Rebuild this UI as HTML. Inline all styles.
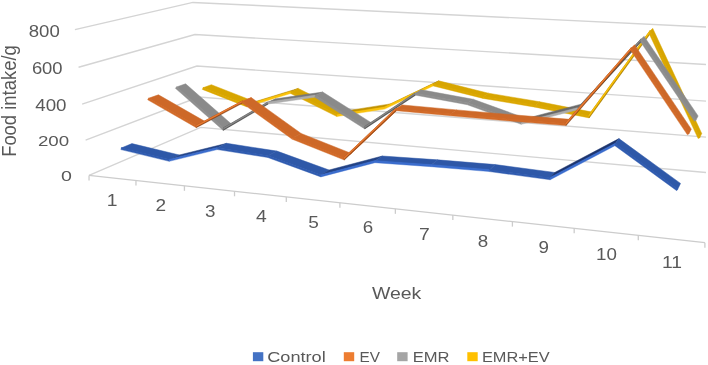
<!DOCTYPE html>
<html><head><meta charset="utf-8"><style>
html,body{margin:0;padding:0;background:#fff;}
svg{display:block;font-family:"Liberation Sans",sans-serif;filter:blur(0.45px);}
</style></head><body>
<svg width="708" height="365" viewBox="0 0 708 365">
<defs><clipPath id="clipR"><rect x="0" y="0" width="706" height="365"/></clipPath></defs>
<rect width="708" height="365" fill="#fff"/>
<g fill="none" stroke="#D4D4D4" stroke-width="1.4" clip-path="url(#clipR)"><polyline points="89.04,175.39 200.70,127.36 727.74,174.38" /><polyline points="85.61,140.11 198.80,96.98 731.13,139.12" /><polyline points="82.12,104.07 196.88,66.04 734.60,103.11" /><polyline points="78.55,67.25 194.91,34.53 738.14,66.31" /><polyline points="74.90,29.61 192.92,2.44 741.76,28.69" /></g>
<g stroke="#CCCCCC" stroke-width="1.3"><line x1="89.04" y1="175.39" x2="704.89" y2="242.65"/><line x1="89.04" y1="175.39" x2="89.04" y2="180.39"/><line x1="135.96" y1="180.51" x2="135.96" y2="185.51"/><line x1="184.43" y1="185.81" x2="184.43" y2="190.81"/><line x1="234.52" y1="191.28" x2="234.52" y2="196.28"/><line x1="286.31" y1="196.93" x2="286.31" y2="201.93"/><line x1="339.90" y1="202.79" x2="339.90" y2="207.79"/><line x1="395.38" y1="208.84" x2="395.38" y2="213.84"/><line x1="452.84" y1="215.12" x2="452.84" y2="220.12"/><line x1="512.40" y1="221.62" x2="512.40" y2="226.62"/><line x1="574.18" y1="228.37" x2="574.18" y2="233.37"/><line x1="638.29" y1="235.37" x2="638.29" y2="240.37"/><line x1="704.89" y1="242.65" x2="704.89" y2="247.65"/></g>
<g><polygon points="202.94,87.80 246.95,105.09 254.85,101.73 211.35,84.70" fill="#d7a500" stroke="#d7a500" stroke-width="0.5" stroke-linejoin="round"/><polygon points="203.10,87.40 246.97,104.64 246.88,106.89 202.32,89.38" fill="#dca803" stroke="#dca803" stroke-width="0.4" stroke-linejoin="round"/><polygon points="246.95,105.09 290.78,91.69 298.23,88.45 254.85,101.73" fill="#b48700" stroke="#b48700" stroke-width="0.5" stroke-linejoin="round"/><polygon points="246.97,104.64 290.82,91.24 290.63,93.52 246.88,106.89" fill="#fac20a" stroke="#fac20a" stroke-width="0.4" stroke-linejoin="round"/><polygon points="290.78,91.69 337.16,114.82 344.03,111.23 298.23,88.45" fill="#d7a500" stroke="#d7a500" stroke-width="0.5" stroke-linejoin="round"/><polygon points="290.82,91.24 337.22,114.38 336.88,116.59 290.63,93.52" fill="#dca803" stroke="#dca803" stroke-width="0.4" stroke-linejoin="round"/><polygon points="337.16,114.82 384.14,107.45 390.48,103.89 344.03,111.23" fill="#c09100" stroke="#c09100" stroke-width="0.5" stroke-linejoin="round"/><polygon points="337.22,114.38 384.01,107.04 384.65,109.09 336.88,116.59" fill="#fac20a" stroke="#fac20a" stroke-width="0.4" stroke-linejoin="round"/><polygon points="384.14,107.45 432.98,84.14 438.76,80.84 390.48,103.89" fill="#a57a00" stroke="#a57a00" stroke-width="0.5" stroke-linejoin="round"/><polygon points="384.01,107.04 432.94,83.69 433.16,85.94 384.65,109.09" fill="#fac20a" stroke="#fac20a" stroke-width="0.4" stroke-linejoin="round"/><polygon points="432.98,84.14 483.36,96.75 488.48,93.22 438.76,80.84" fill="#d7a500" stroke="#d7a500" stroke-width="0.5" stroke-linejoin="round"/><polygon points="432.94,83.69 483.44,96.33 483.01,98.42 433.16,85.94" fill="#dca803" stroke="#dca803" stroke-width="0.4" stroke-linejoin="round"/><polygon points="483.36,96.75 535.21,105.46 539.63,101.75 488.48,93.22" fill="#d7a500" stroke="#d7a500" stroke-width="0.5" stroke-linejoin="round"/><polygon points="483.44,96.33 535.28,105.04 534.90,107.13 483.01,98.42" fill="#dca803" stroke="#dca803" stroke-width="0.4" stroke-linejoin="round"/><polygon points="535.21,105.46 588.47,116.03 592.16,112.11 539.63,101.75" fill="#d7a500" stroke="#d7a500" stroke-width="0.5" stroke-linejoin="round"/><polygon points="535.28,105.04 588.29,115.56 589.21,117.91 534.90,107.13" fill="#dca803" stroke="#dca803" stroke-width="0.4" stroke-linejoin="round"/><polygon points="588.47,116.03 649.92,31.36 652.80,28.60 592.16,112.11" fill="#fac20a" stroke="#fac20a" stroke-width="0.5" stroke-linejoin="round"/><polygon points="588.29,115.56 650.00,30.52 649.60,34.69 589.21,117.91" fill="#aa7d00" stroke="#aa7d00" stroke-width="0.4" stroke-linejoin="round"/><polygon points="588.29,115.56 650.00,30.52 649.76,33.02 588.84,116.97" fill="#fac20a" stroke="#fac20a" stroke-width="0.3" stroke-linejoin="round"/><polygon points="649.92,31.36 699.64,137.90 701.72,133.53 652.80,28.60" fill="#d7a500" stroke="#d7a500" stroke-width="0.5" stroke-linejoin="round"/><polygon points="650.00,30.52 700.02,137.72 698.10,138.62 649.60,34.69" fill="#dca803" stroke="#dca803" stroke-width="0.4" stroke-linejoin="round"/><polygon points="176.47,87.02 223.44,128.34 231.95,124.53 185.60,83.79" fill="#8a8a8a" stroke="#8a8a8a" stroke-width="0.5" stroke-linejoin="round"/><polygon points="176.75,86.70 223.49,127.82 223.24,130.43 175.34,88.29" fill="#8f8f8f" stroke="#8f8f8f" stroke-width="0.4" stroke-linejoin="round"/><polygon points="223.44,128.34 267.92,102.35 276.01,98.82 231.95,124.53" fill="#878787" stroke="#878787" stroke-width="0.5" stroke-linejoin="round"/><polygon points="223.49,127.82 267.78,101.94 268.50,103.98 223.24,130.43" fill="#484848" stroke="#484848" stroke-width="0.4" stroke-linejoin="round"/><polygon points="223.49,127.82 267.78,101.94 268.21,103.17 223.34,129.39" fill="#878787" stroke="#878787" stroke-width="0.3" stroke-linejoin="round"/><polygon points="267.92,102.35 315.19,95.54 322.73,92.04 276.01,98.82" fill="#767676" stroke="#767676" stroke-width="0.5" stroke-linejoin="round"/><polygon points="267.78,101.94 315.28,95.09 314.81,97.31 268.50,103.98" fill="#acacac" stroke="#acacac" stroke-width="0.4" stroke-linejoin="round"/><polygon points="315.19,95.54 364.75,126.92 371.63,122.93 322.73,92.04" fill="#8a8a8a" stroke="#8a8a8a" stroke-width="0.5" stroke-linejoin="round"/><polygon points="315.28,95.09 364.75,126.41 364.78,128.94 314.81,97.31" fill="#8f8f8f" stroke="#8f8f8f" stroke-width="0.4" stroke-linejoin="round"/><polygon points="364.75,126.92 415.17,93.41 421.48,89.82 371.63,122.93" fill="#878787" stroke="#878787" stroke-width="0.5" stroke-linejoin="round"/><polygon points="364.75,126.41 415.08,92.96 415.54,95.21 364.78,128.94" fill="#484848" stroke="#484848" stroke-width="0.4" stroke-linejoin="round"/><polygon points="364.75,126.41 415.08,92.96 415.36,94.31 364.77,127.93" fill="#878787" stroke="#878787" stroke-width="0.3" stroke-linejoin="round"/><polygon points="415.17,93.41 467.65,103.08 473.25,99.29 421.48,89.82" fill="#8a8a8a" stroke="#8a8a8a" stroke-width="0.5" stroke-linejoin="round"/><polygon points="415.08,92.96 467.76,102.67 467.20,104.72 415.54,95.21" fill="#8f8f8f" stroke="#8f8f8f" stroke-width="0.4" stroke-linejoin="round"/><polygon points="467.65,103.08 521.36,122.59 526.19,118.46 473.25,99.29" fill="#8a8a8a" stroke="#8a8a8a" stroke-width="0.5" stroke-linejoin="round"/><polygon points="467.76,102.67 521.38,122.14 521.27,124.37 467.20,104.72" fill="#8f8f8f" stroke="#8f8f8f" stroke-width="0.4" stroke-linejoin="round"/><polygon points="521.36,122.59 578.09,107.91 582.13,103.92 526.19,118.46" fill="#696969" stroke="#696969" stroke-width="0.5" stroke-linejoin="round"/><polygon points="521.38,122.14 577.86,107.53 579.00,109.43 521.27,124.37" fill="#acacac" stroke="#acacac" stroke-width="0.4" stroke-linejoin="round"/><polygon points="578.09,107.91 641.01,39.50 644.18,36.48 582.13,103.92" fill="#878787" stroke="#878787" stroke-width="0.5" stroke-linejoin="round"/><polygon points="577.86,107.53 641.06,38.82 640.81,42.23 579.00,109.43" fill="#484848" stroke="#484848" stroke-width="0.4" stroke-linejoin="round"/><polygon points="577.86,107.53 641.06,38.82 640.91,40.87 578.55,108.67" fill="#878787" stroke="#878787" stroke-width="0.3" stroke-linejoin="round"/><polygon points="641.01,39.50 695.85,120.28 698.11,115.96 644.18,36.48" fill="#8a8a8a" stroke="#8a8a8a" stroke-width="0.5" stroke-linejoin="round"/><polygon points="641.06,38.82 696.20,120.04 694.44,121.24 640.81,42.23" fill="#8f8f8f" stroke="#8f8f8f" stroke-width="0.4" stroke-linejoin="round"/><polygon points="148.49,98.31 196.36,125.76 205.66,121.81 158.41,94.79" fill="#cd6828" stroke="#cd6828" stroke-width="0.5" stroke-linejoin="round"/><polygon points="148.71,97.94 196.36,125.28 196.32,127.70 147.65,99.79" fill="#d26b29" stroke="#d26b29" stroke-width="0.4" stroke-linejoin="round"/><polygon points="196.36,125.76 242.45,101.30 251.29,97.62 205.66,121.81" fill="#ec7a30" stroke="#ec7a30" stroke-width="0.5" stroke-linejoin="round"/><polygon points="196.36,125.28 242.48,100.80 242.31,103.30 196.32,127.70" fill="#8c4416" stroke="#8c4416" stroke-width="0.4" stroke-linejoin="round"/><polygon points="196.36,125.28 242.48,100.80 242.38,102.30 196.34,126.73" fill="#ec7a30" stroke="#ec7a30" stroke-width="0.3" stroke-linejoin="round"/><polygon points="242.45,101.30 293.03,137.72 301.16,133.47 251.29,97.62" fill="#cd6828" stroke="#cd6828" stroke-width="0.5" stroke-linejoin="round"/><polygon points="242.48,100.80 293.23,137.34 292.20,139.22 242.31,103.30" fill="#d26b29" stroke="#d26b29" stroke-width="0.4" stroke-linejoin="round"/><polygon points="293.03,137.72 343.93,158.07 351.39,153.46 301.16,133.47" fill="#cd6828" stroke="#cd6828" stroke-width="0.5" stroke-linejoin="round"/><polygon points="293.23,137.34 343.83,157.57 344.31,160.05 292.20,139.22" fill="#d26b29" stroke="#d26b29" stroke-width="0.4" stroke-linejoin="round"/><polygon points="343.93,158.07 395.73,108.99 402.62,105.00 351.39,153.46" fill="#ec7a30" stroke="#ec7a30" stroke-width="0.5" stroke-linejoin="round"/><polygon points="343.83,157.57 395.58,108.55 396.34,110.75 344.31,160.05" fill="#8c4416" stroke="#8c4416" stroke-width="0.4" stroke-linejoin="round"/><polygon points="343.83,157.57 395.58,108.55 396.03,109.87 344.12,159.06" fill="#ec7a30" stroke="#ec7a30" stroke-width="0.3" stroke-linejoin="round"/><polygon points="395.73,108.99 450.37,114.02 456.50,109.88 402.62,105.00" fill="#cd6828" stroke="#cd6828" stroke-width="0.5" stroke-linejoin="round"/><polygon points="395.58,108.55 450.41,113.59 450.22,115.71 396.34,110.75" fill="#d26b29" stroke="#d26b29" stroke-width="0.4" stroke-linejoin="round"/><polygon points="450.37,114.02 506.89,119.02 512.20,114.74 456.50,109.88" fill="#cd6828" stroke="#cd6828" stroke-width="0.5" stroke-linejoin="round"/><polygon points="450.41,113.59 506.92,118.60 506.74,120.72 450.22,115.71" fill="#d26b29" stroke="#d26b29" stroke-width="0.4" stroke-linejoin="round"/><polygon points="506.89,119.02 565.40,123.81 569.84,119.37 512.20,114.74" fill="#cd6828" stroke="#cd6828" stroke-width="0.5" stroke-linejoin="round"/><polygon points="506.92,118.60 565.22,123.37 566.11,125.58 506.74,120.72" fill="#d26b29" stroke="#d26b29" stroke-width="0.4" stroke-linejoin="round"/><polygon points="565.40,123.81 631.20,48.27 634.70,44.94 569.84,119.37" fill="#ec7a30" stroke="#ec7a30" stroke-width="0.5" stroke-linejoin="round"/><polygon points="565.22,123.37 631.24,47.57 631.03,51.06 566.11,125.58" fill="#8c4416" stroke="#8c4416" stroke-width="0.4" stroke-linejoin="round"/><polygon points="565.22,123.37 631.24,47.57 631.11,49.66 565.76,124.69" fill="#ec7a30" stroke="#ec7a30" stroke-width="0.3" stroke-linejoin="round"/><polygon points="631.20,48.27 688.81,133.91 691.31,129.14 634.70,44.94" fill="#cd6828" stroke="#cd6828" stroke-width="0.5" stroke-linejoin="round"/><polygon points="631.24,47.57 689.17,133.67 687.40,134.86 631.03,51.06" fill="#d26b29" stroke="#d26b29" stroke-width="0.4" stroke-linejoin="round"/><polygon points="121.29,147.97 169.24,159.60 179.30,154.99 131.93,143.60" fill="#2e58a8" stroke="#2e58a8" stroke-width="0.5" stroke-linejoin="round"/><polygon points="121.39,147.56 169.24,159.17 169.24,161.35 120.89,149.62" fill="#305cb0" stroke="#305cb0" stroke-width="0.4" stroke-linejoin="round"/><polygon points="169.24,159.60 217.18,147.85 226.72,143.33 179.30,154.99" fill="#244487" stroke="#244487" stroke-width="0.5" stroke-linejoin="round"/><polygon points="169.24,159.17 217.17,147.42 217.26,149.59 169.24,161.35" fill="#3a6ccd" stroke="#3a6ccd" stroke-width="0.4" stroke-linejoin="round"/><polygon points="217.18,147.85 268.10,155.85 276.99,151.12 226.72,143.33" fill="#2e58a8" stroke="#2e58a8" stroke-width="0.5" stroke-linejoin="round"/><polygon points="217.17,147.42 268.21,155.43 267.68,157.50 217.26,149.59" fill="#305cb0" stroke="#305cb0" stroke-width="0.4" stroke-linejoin="round"/><polygon points="268.10,155.85 320.96,175.11 329.12,170.02 276.99,151.12" fill="#2e58a8" stroke="#2e58a8" stroke-width="0.5" stroke-linejoin="round"/><polygon points="268.21,155.43 320.98,174.66 320.87,176.89 267.68,157.50" fill="#305cb0" stroke="#305cb0" stroke-width="0.4" stroke-linejoin="round"/><polygon points="320.96,175.11 374.81,161.00 382.29,156.02 329.12,170.02" fill="#234284" stroke="#234284" stroke-width="0.5" stroke-linejoin="round"/><polygon points="320.98,174.66 374.77,160.57 374.97,162.71 320.87,176.89" fill="#3a6ccd" stroke="#3a6ccd" stroke-width="0.4" stroke-linejoin="round"/><polygon points="374.81,161.00 431.12,164.98 437.79,159.85 382.29,156.02" fill="#2d56a5" stroke="#2d56a5" stroke-width="0.5" stroke-linejoin="round"/><polygon points="374.77,160.57 431.15,164.56 430.99,166.68 374.97,162.71" fill="#3a6ccd" stroke="#3a6ccd" stroke-width="0.4" stroke-linejoin="round"/><polygon points="431.12,164.98 489.48,169.90 495.29,164.59 437.79,159.85" fill="#2e57a7" stroke="#2e57a7" stroke-width="0.5" stroke-linejoin="round"/><polygon points="431.15,164.56 489.52,169.48 489.29,171.59 430.99,166.68" fill="#3a6ccd" stroke="#3a6ccd" stroke-width="0.4" stroke-linejoin="round"/><polygon points="489.48,169.90 549.87,178.01 554.75,172.48 495.29,164.59" fill="#2e58a8" stroke="#2e58a8" stroke-width="0.5" stroke-linejoin="round"/><polygon points="489.52,169.48 549.79,177.57 550.18,179.77 489.29,171.59" fill="#305cb0" stroke="#305cb0" stroke-width="0.4" stroke-linejoin="round"/><polygon points="549.87,178.01 615.06,143.71 618.94,138.61 554.75,172.48" fill="#1c346e" stroke="#1c346e" stroke-width="0.5" stroke-linejoin="round"/><polygon points="549.79,177.57 615.10,143.22 614.91,145.71 550.18,179.77" fill="#3a6ccd" stroke="#3a6ccd" stroke-width="0.4" stroke-linejoin="round"/><polygon points="615.06,143.71 677.74,189.33 680.53,183.38 618.94,138.61" fill="#2e58a8" stroke="#2e58a8" stroke-width="0.5" stroke-linejoin="round"/><polygon points="615.10,143.22 677.99,188.98 676.74,190.70 614.91,145.71" fill="#305cb0" stroke="#305cb0" stroke-width="0.4" stroke-linejoin="round"/></g>
<text transform="translate(28.76,36.74) scale(1.149,1)" font-size="16.20" fill="#595959">800</text>
<text transform="translate(31.88,73.74) scale(1.137,1)" font-size="16.20" fill="#595959">600</text>
<text transform="translate(35.22,110.94) scale(1.158,1)" font-size="16.20" fill="#595959">400</text>
<text transform="translate(37.96,146.05) scale(1.209,1)" font-size="15.49" fill="#595959">200</text>
<text transform="translate(61.01,181.05) scale(1.338,1)" font-size="14.65" fill="#595959">0</text>
<text transform="translate(106.80,205.95) scale(1.180,1)" font-size="16.38" fill="#595959">1</text>
<text transform="translate(155.47,210.75) scale(1.180,1)" font-size="16.14" fill="#595959">2</text>
<text transform="translate(205.04,216.59) scale(1.180,1)" font-size="15.92" fill="#595959">3</text>
<text transform="translate(256.09,222.15) scale(1.180,1)" font-size="16.38" fill="#595959">4</text>
<text transform="translate(308.17,227.99) scale(1.180,1)" font-size="16.14" fill="#595959">5</text>
<text transform="translate(362.65,233.49) scale(1.180,1)" font-size="15.92" fill="#595959">6</text>
<text transform="translate(418.99,240.15) scale(1.180,1)" font-size="16.38" fill="#595959">7</text>
<text transform="translate(477.84,246.69) scale(1.180,1)" font-size="15.92" fill="#595959">8</text>
<text transform="translate(538.44,252.99) scale(1.180,1)" font-size="15.92" fill="#595959">9</text>
<text transform="translate(596.10,260.39) scale(1.180,1)" font-size="15.92" fill="#595959">10</text>
<text transform="translate(662.06,267.75) scale(1.180,1)" font-size="16.38" fill="#595959">11</text>
<text transform="translate(371.90,298.83) scale(1.120,1)" font-size="17.40" fill="#595959">Week</text>
<text transform="translate(16.24,156.87) rotate(-90) scale(0.912,1)" font-size="20.20" fill="#595959">Food intake/g</text>
<rect x="252.9" y="352.2" width="10.4" height="9" fill="rgb(68, 114, 196)"/>
<text transform="translate(267.19,361.66) scale(1.263,1)" font-size="14.38" fill="#595959">Control</text>
<rect x="343.8" y="352.2" width="10.4" height="9" fill="rgb(237, 125, 49)"/>
<text transform="translate(359.47,361.80) scale(1.007,1)" font-size="15.22" fill="#595959">EV</text>
<rect x="397.2" y="352.2" width="10.4" height="9" fill="rgb(165, 165, 165)"/>
<text transform="translate(412.67,361.80) scale(1.089,1)" font-size="15.22" fill="#595959">EMR</text>
<rect x="467.3" y="352.2" width="10.4" height="9" fill="rgb(255, 192, 0)"/>
<text transform="translate(481.89,361.80) scale(1.076,1)" font-size="15.22" fill="#595959">EMR+EV</text>
</svg></body></html>
